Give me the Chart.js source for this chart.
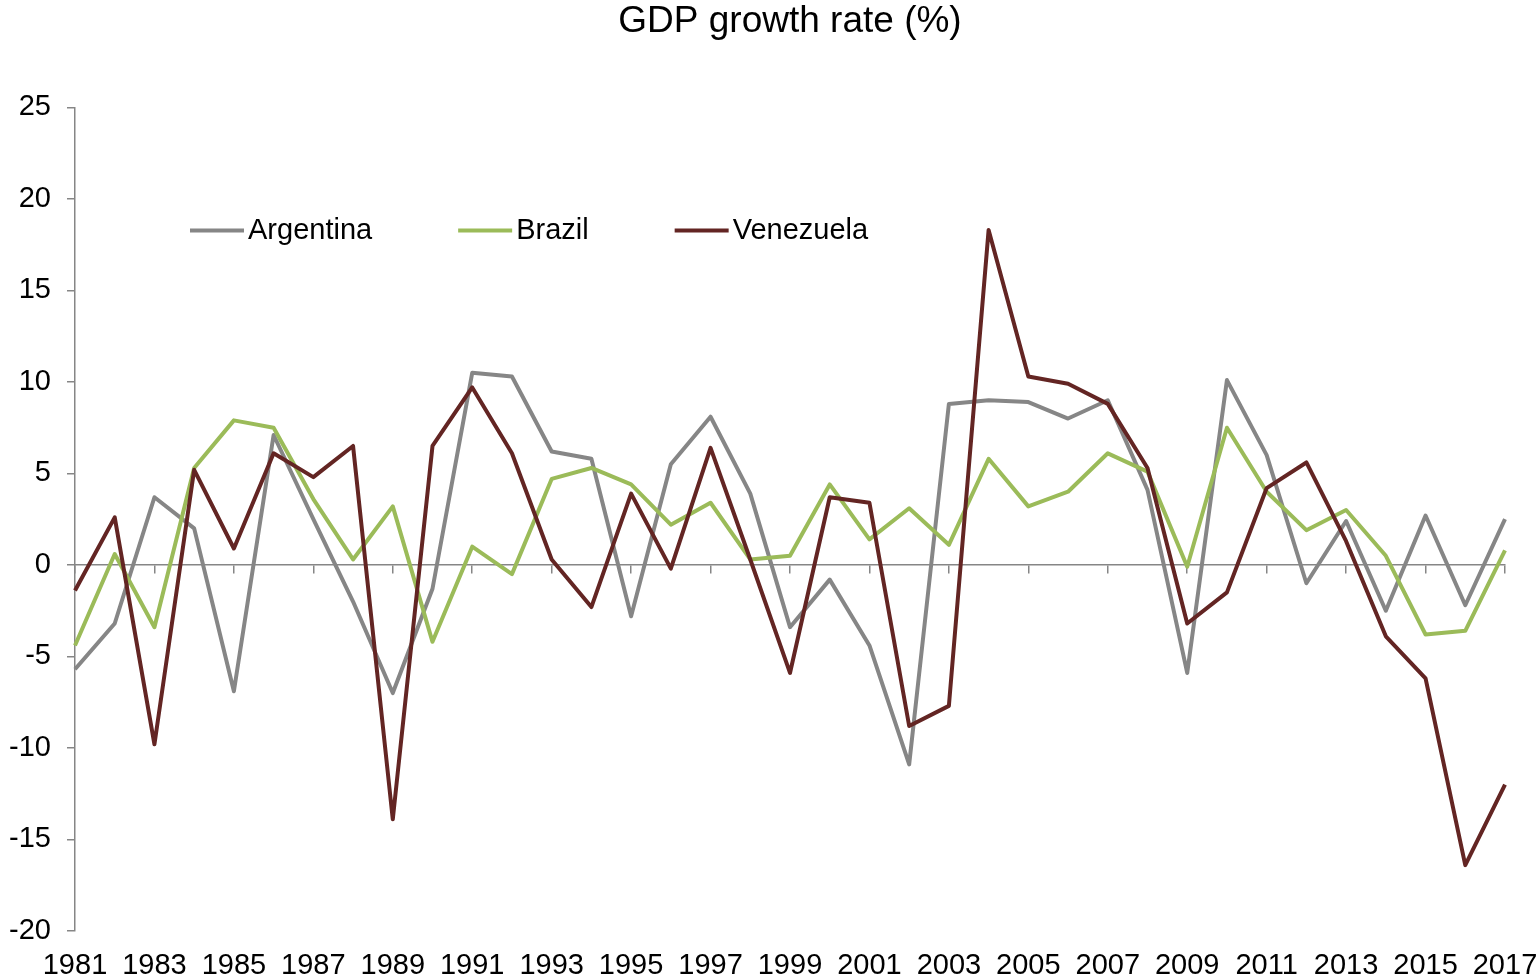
<!DOCTYPE html>
<html>
<head>
<meta charset="utf-8">
<title>GDP growth rate (%)</title>
<script src="https://cdn.jsdelivr.net/npm/chart.js@4.4.1/dist/chart.umd.min.js"></script>
<style>
  html, body { margin: 0; padding: 0; background: #ffffff; }
  #chartContainer { width: 1539px; height: 980px; position: relative; }
</style>
</head>
<body>
<div id="chartContainer"><canvas id="chartCanvas"></canvas></div>
<script>
// years on the x axis
const years = [
  "1981","1982","1983","1984","1985","1986","1987","1988","1989","1990",
  "1991","1992","1993","1994","1995","1996","1997","1998","1999","2000",
  "2001","2002","2003","2004","2005","2006","2007","2008","2009","2010",
  "2011","2012","2013","2014","2015","2016","2017"
];

// GDP growth, %
const argentina = [
  -5.7, -3.2, 3.7, 2.0, -6.9, 7.1, 2.5, -2.0, -7.0, -1.3,
  10.5, 10.3, 6.2, 5.8, -2.8, 5.5, 8.1, 3.9, -3.4, -0.8,
  -4.4, -10.9, 8.8, 9.0, 8.9, 8.0, 9.0, 4.1, -5.9, 10.1,
  6.0, -1.0, 2.4, -2.5, 2.7, -2.2, 2.5
];
const brazil = [
  -4.4, 0.6, -3.4, 5.3, 7.9, 7.5, 3.6, 0.3, 3.2, -4.2,
  1.0, -0.5, 4.7, 5.3, 4.4, 2.2, 3.4, 0.3, 0.5, 4.4,
  1.4, 3.1, 1.1, 5.8, 3.2, 4.0, 6.1, 5.1, -0.1, 7.5,
  4.0, 1.9, 3.0, 0.5, -3.8, -3.6, 0.8
];
const venezuela = [
  -1.4, 2.6, -9.8, 5.2, 0.9, 6.1, 4.8, 6.5, -13.9, 6.5,
  9.7, 6.1, 0.3, -2.3, 3.9, -0.2, 6.4, 0.3, -5.9, 3.7,
  3.4, -8.8, -7.7, 18.3, 10.3, 9.9, 8.8, 5.3, -3.2, -1.5,
  4.2, 5.6, 1.3, -3.9, -6.2, -16.4, -12.0
];

const seriesNames = ["Argentina", "Brazil", "Venezuela"];
const seriesColors = ["#868686", "#9BBB59", "#632523"];

const FONT = "'Liberation Sans', Arial, sans-serif";
const axisGrey = "#868686";

// legend drawn inside the plot, the way the original has it
const insideLegend = {
  id: "insideLegend",
  afterDraw(chart) {
    const ctx = chart.ctx;
    const area = chart.chartArea;
    let x = area.left + 115;
    const y = area.top + 123;
    ctx.save();
    ctx.font = "29px " + FONT;
    ctx.textBaseline = "middle";
    ctx.textAlign = "left";
    chart.data.datasets.forEach(ds => {
      ctx.strokeStyle = ds.borderColor;
      ctx.lineWidth = 4;
      ctx.beginPath();
      ctx.moveTo(x, y);
      ctx.lineTo(x + 54, y);
      ctx.stroke();
      ctx.fillStyle = "#000000";
      ctx.fillText(ds.label, x + 58, y + 1);
      x += 58 + ctx.measureText(ds.label).width + 86;
    });
    ctx.restore();
  }
};

function createChart() {
  const datasets = [argentina, brazil, venezuela].map((values, i) => ({
    label: seriesNames[i],
    data: values,
    borderColor: seriesColors[i],
    backgroundColor: seriesColors[i],
    borderWidth: 4,
    borderJoinStyle: "round",
    pointRadius: 0,
    tension: 0,
    fill: false,
    order: 3 - i
  }));

  new Chart("chartCanvas", {
    type: "line",
    data: { labels: years, datasets: datasets },
    plugins: [insideLegend],
    options: {
      responsive: true,
      maintainAspectRatio: false,
      animation: false,
      layout: { padding: { left: 0, right: 34, top: 0, bottom: 0 } },
      plugins: {
        legend: { display: false },
        tooltip: { enabled: false },
        title: {
          display: true,
          fullSize: false, // centre over the plot area, as in the original
          text: "GDP growth rate (%)",
          color: "#000000",
          font: { family: FONT, size: 37, weight: "normal" },
          padding: { top: 0, bottom: 63 }
        }
      },
      scales: {
        x: {
          type: "category",
          offset: false,
          afterFit: (scale) => {
            scale.height = 49;
            scale.paddingLeft = 0;
            scale.paddingRight = 0;
          },
          grid: { display: false, drawTicks: false },
          border: { display: false },
          ticks: {
            autoSkip: false,
            maxRotation: 0,
            minRotation: 0,
            padding: 18,
            color: "#000000",
            font: { family: FONT, size: 29 },
            callback: function (val, index) {
              return index % 2 === 0 ? this.getLabelForValue(val) : "";
            }
          }
        },
        xZero: {
          type: "category",
          position: { y: 0 },
          offset: false,
          afterFit: (scale) => {
            scale.paddingLeft = 0;
            scale.paddingRight = 0;
          },
          grid: {
            drawOnChartArea: false,
            drawTicks: true,
            tickLength: 8,
            lineWidth: 1.5,
            color: (c) => (c.index % 2 === 0 ? axisGrey : "rgba(0,0,0,0)")
          },
          border: { display: true, color: axisGrey, width: 1.5 },
          ticks: { display: false, autoSkip: false }
        },
        y: {
          min: -20,
          max: 25,
          afterFit: (scale) => { scale.width = 75; },
          grid: {
            drawOnChartArea: false,
            drawTicks: true,
            tickLength: 8,
            lineWidth: 1.5,
            color: axisGrey
          },
          border: { display: true, color: axisGrey, width: 1.5 },
          ticks: {
            stepSize: 5,
            padding: 16,
            color: "#000000",
            font: { family: FONT, size: 29 }
          }
        }
      }
    }
  });
}

createChart();
</script>
</body>
</html>
